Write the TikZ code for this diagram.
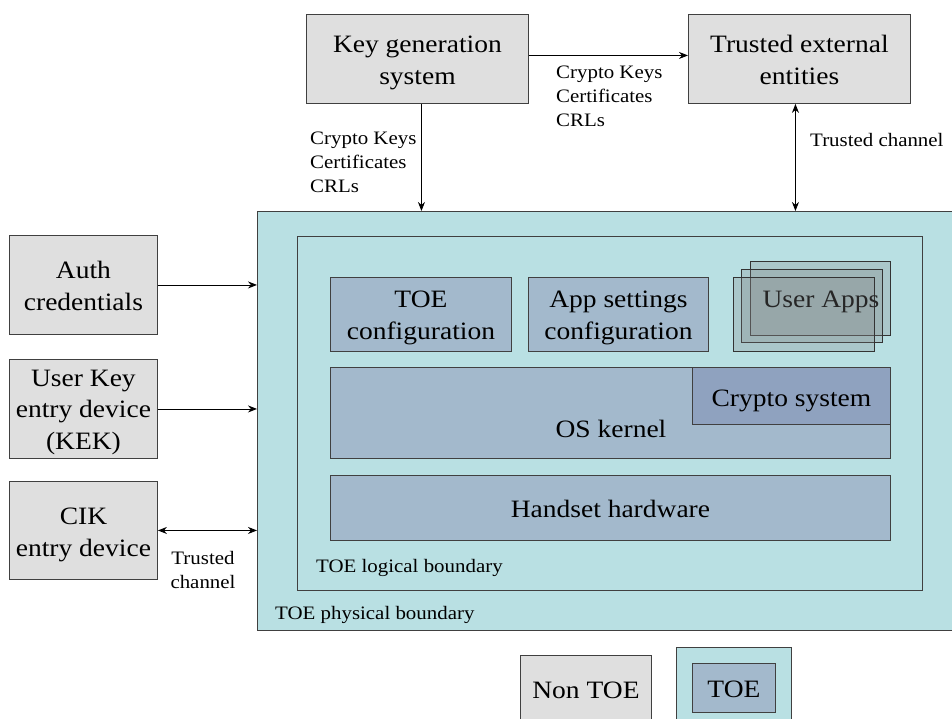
\documentclass[tikz,border=0pt]{standalone}
\usepackage{fontspec}
\setmainfont{Liberation Serif}[FakeStretch=1.1]
\usetikzlibrary{arrows.meta,calc}
\definecolor{ntoe}{HTML}{DFDFDF}
\definecolor{phys}{HTML}{B9E0E3}
\definecolor{comp}{HTML}{A3B9CC}
\definecolor{crypt}{HTML}{8FA2BF}
\definecolor{edge}{HTML}{404040}
\tikzset{
  bigtxt/.style={font=\fontsize{25}{31.5}\selectfont},
  smalltxt/.style={font=\fontsize{19}{24}\selectfont},
  tl/.style={text height=#1, text depth=0pt},
  box/.style={draw=edge, line width=0.9pt, anchor=north west, inner sep=0pt, align=center, bigtxt},
  region/.style={draw=edge, line width=0.9pt, fill=phys, anchor=north west, inner sep=0pt},
  outside/.style={box, fill=ntoe},
  compbox/.style={box, fill=comp},
  appbox/.style={draw=black!80, line width=0.8pt, fill=gray, fill opacity=0.25, anchor=north west, inner sep=0pt},
  lbl/.style={smalltxt, anchor=north west, inner sep=0pt, align=left},
  arr/.style={-{Stealth[length=9pt,width=7pt]}, line width=0.9pt},
  darr/.style={{Stealth[length=9pt,width=7pt]}-{Stealth[length=9pt,width=7pt]}, line width=0.9pt}
}
\begin{document}
\begin{tikzpicture}[x=1pt,y=-1pt]
\useasboundingbox (0,0) rectangle (952,718);
% physical and logical boundaries
\node[region, minimum width=700, minimum height=419] (phys) at (257,211) {};
\node[region, minimum width=625, minimum height=354] (logi) at (297,236) {};
\node[lbl, anchor=base west] (physl) at (275,619) {TOE physical boundary};
\node[lbl, anchor=base west] (logil) at (316,572) {TOE logical boundary};
% components
\node[compbox, tl=50pt, minimum width=181, minimum height=74] (tcfg) at (330,277) {TOE\\configuration};
\node[compbox, tl=50pt, minimum width=180, minimum height=74] (acfg) at (528,277) {App settings\\configuration};
\node[appbox, minimum width=140, minimum height=74] (ua3) at (750,261) {};
\node[appbox, minimum width=141, minimum height=73] (ua2) at (741,269) {};
\node[appbox, minimum width=141, minimum height=74] (ua1) at (733,277) {};
\node[bigtxt, text=black!85, inner sep=0pt] (ual) at (821,302) {User Apps};
\node[compbox, minimum width=560, minimum height=91] (os) at (330,367) {};
\node[bigtxt, inner sep=0pt] (osl) at (611,429) {OS kernel};
\node[box, tl=21pt, fill=crypt, minimum width=198, minimum height=57] (cs) at (692,367) {Crypto system};
\node[compbox, tl=19pt, minimum width=560, minimum height=65] (hw) at (330,475) {Handset hardware};
% external entities
\node[outside, tl=51pt, minimum width=222, minimum height=89] (kg) at (306,14) {Key generation\\system};
\node[outside, tl=51pt, minimum width=222, minimum height=89] (te) at (688,14) {Trusted external\\entities};
\node[outside, tl=51pt, minimum width=148, minimum height=99] (auth) at (9,235) {Auth\\credentials};
\node[outside, tl=81pt, minimum width=148, minimum height=99] (uk) at (9,359) {User Key\\entry device\\(KEK)};
\node[outside, tl=52pt, minimum width=148, minimum height=98] (cik) at (9,481) {CIK\\entry device};
% connectors
\draw[arr] ($(kg.east)+(0,-3.5)$) -- ($(te.west)+(0,-3.5)$);
\node[lbl] (l1) at (556,66) {Crypto Keys\\Certificates\\CRLs};
\draw[arr] ($(kg.south)+(4,0)$) -- ($(kg.south |- phys.north)+(4,0)$);
\node[lbl] (l2) at (310,132) {Crypto Keys\\Certificates\\CRLs};
\draw[darr] ($(te.south)+(-4,0)$) -- ($(te.south |- phys.north)+(-4,0)$);
\node[lbl] (l3) at (810,133) {Trusted channel};
\draw[arr] (auth.east) -- (auth.east -| phys.west);
\draw[arr] (uk.east) -- (uk.east -| phys.west);
\draw[darr] (cik.east) -- (cik.east -| phys.west);
\node[smalltxt, align=center, inner sep=0pt] (l4) at (203,570) {Trusted\\channel};
% legend
\node[outside, tl=16pt, minimum width=131, minimum height=70] (lnt) at (520,655) {Non TOE};
\node[region, minimum width=115, minimum height=80] (lt) at (676,647) {};
\node[compbox, tl=19pt, minimum width=83, minimum height=49] (lti) at (692,663) {TOE};
\end{tikzpicture}
\end{document}
